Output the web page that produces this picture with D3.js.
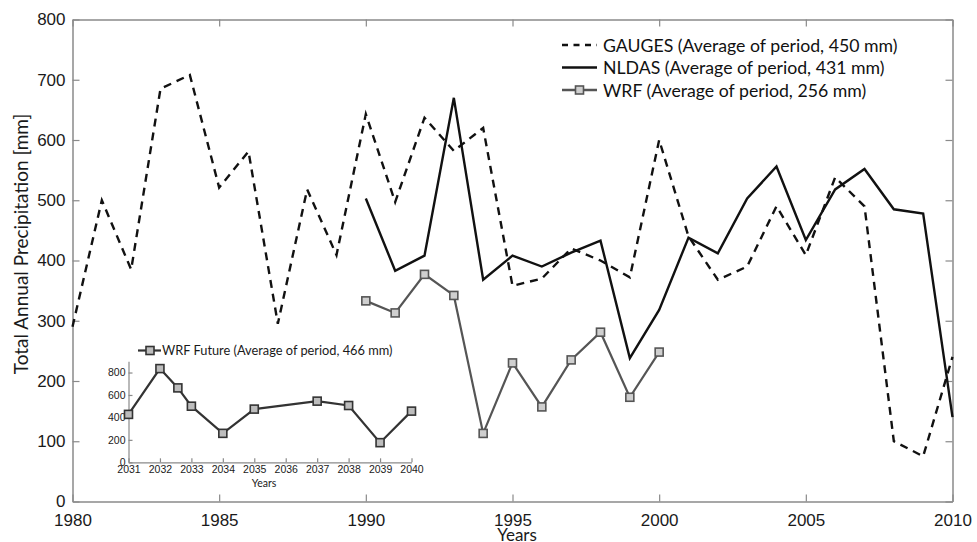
<!DOCTYPE html>
<html>
<head>
<meta charset="utf-8">
<script src="https://cdn.jsdelivr.net/npm/d3@7"></script>
<style>
  body { margin: 0; background: #fff; }
  svg { font-family: Lato, "Open Sans", sans-serif; }
  .frame path.domain { stroke: #8a8a8a; stroke-width: 1.5; }
  .frame line { stroke: #8a8a8a; stroke-width: 1.2; }
  .frame text { fill: #1a1a1a; }
</style>
</head>
<body>
<script>
// values (mm per year)
const gaugeYears = d3.range(1980, 2011);
const gaugeValues = [290, 500, 385, 685, 708, 521, 581, 295, 518, 409,
  643, 497, 637, 582, 620, 358, 370, 420, 400, 372,
  600, 440, 368, 390, 490, 409, 538, 490, 100, 75, 240];

const nldasYears = d3.range(1990, 2011);
const nldasValues = [503, 383, 408, 670, 368, 408, 390, 413, 433, 238,
  318, 438, 412, 503, 556, 434, 518, 552, 485, 478, 140];

const wrfYears = d3.range(1990, 2001);
const wrfValues = [333, 313, 377, 342, 113, 230, 157, 235, 281, 173, 248];

// inset: future run
const futureYears = [2031, 2032, 2032.57, 2033, 2034, 2035, 2037, 2038, 2039, 2040];
const futureValues = [427, 835, 663, 500, 258, 474, 545, 506, 175, 456];

const mainXTicks = [1980, 1985, 1990, 1995, 2000, 2005, 2010];
const mainYTicks = [0, 100, 200, 300, 400, 500, 600, 700, 800];
const insetXTicks = d3.range(2031, 2041);
const insetYTicks = [0, 200, 400, 600, 800];

const legendLabels = [
  "GAUGES (Average of period, 450 mm)",
  "NLDAS (Average of period, 431 mm)",
  "WRF (Average of period, 256 mm)"
];
const insetLegend = "WRF Future (Average of period, 466 mm)";

var width = 977, height = 542;
var margin = {top: 19.5, right: 24.5, bottom: 40.5, left: 72.5};

var svg = d3.select("body").append("svg")
    .attr("width", width)
    .attr("height", height);

var x = d3.scaleLinear().domain([1980, 2010]).range([margin.left, width - margin.right]);
var y = d3.scaleLinear().domain([0, 800]).range([height - margin.bottom, margin.top]);

// frame + ticks (all pointing inwards like matlab)
svg.append("g").attr("class", "frame")
    .attr("transform", "translate(0," + (height - margin.bottom) + ")")
    .call(d3.axisBottom(x).tickValues(mainXTicks).tickFormat(d3.format("d"))
        .tickSizeInner(-7).tickSizeOuter(0).tickPadding(12))
    .selectAll("text").style("font-size", "17px");

svg.append("g").attr("class", "frame")
    .attr("transform", "translate(0," + margin.top + ")")
    .call(d3.axisTop(x).tickValues(mainXTicks).tickFormat("").tickSizeInner(-7).tickSizeOuter(0));

svg.append("g").attr("class", "frame")
    .attr("transform", "translate(" + margin.left + ",0)")
    .call(d3.axisLeft(y).tickValues(mainYTicks).tickSizeInner(-7).tickSizeOuter(0).tickPadding(7))
    .selectAll("text").style("font-size", "17px");

svg.append("g").attr("class", "frame")
    .attr("transform", "translate(" + (width - margin.right) + ",0)")
    .call(d3.axisRight(y).tickValues(mainYTicks).tickFormat("").tickSizeInner(-7).tickSizeOuter(0));

// axis titles
svg.append("text")
    .attr("x", 517).attr("y", 541)
    .attr("text-anchor", "middle")
    .style("font-size", "17px").style("fill", "#1a1a1a")
    .text("Years");

svg.append("text")
    .attr("transform", "translate(28,244) rotate(-90)")
    .attr("text-anchor", "middle")
    .style("font-size", "19px").style("fill", "#1a1a1a")
    .text("Total Annual Precipitation [mm]");

var line = d3.line()
    .x(d => x(d[0]))
    .y(d => y(d[1]));

svg.append("path")
    .datum(d3.zip(gaugeYears, gaugeValues))
    .attr("d", line)
    .attr("fill", "none")
    .attr("stroke", "#111")
    .attr("stroke-width", 2.4)
    .attr("stroke-dasharray", "8,6");

svg.append("path")
    .datum(d3.zip(nldasYears, nldasValues))
    .attr("d", line)
    .attr("fill", "none")
    .attr("stroke", "#111")
    .attr("stroke-width", 2.4);

svg.append("path")
    .datum(d3.zip(wrfYears, wrfValues))
    .attr("d", line)
    .attr("fill", "none")
    .attr("stroke", "#555")
    .attr("stroke-width", 2.2);

svg.selectAll(".wrfpt")
    .data(d3.zip(wrfYears, wrfValues))
    .enter().append("rect")
    .attr("class", "wrfpt")
    .attr("x", d => x(d[0]) - 4)
    .attr("y", d => y(d[1]) - 4)
    .attr("width", 8).attr("height", 8)
    .attr("fill", "#cfcfcf")
    .attr("stroke", "#555")
    .attr("stroke-width", 1.6);

// legend
var leg = svg.append("g");
legendLabels.forEach(function (lab, i) {
    var ly = 45 + i * 22.5;
    var ln = leg.append("line")
        .attr("x1", 562).attr("x2", 597)
        .attr("y1", ly).attr("y2", ly)
        .attr("stroke-width", 2.4)
        .attr("stroke", i == 2 ? "#555" : "#111");
    if (i == 0) ln.attr("stroke-dasharray", "6,5.5");
    if (i == 2) {
        leg.append("rect")
            .attr("x", 575.5).attr("y", ly - 4).attr("width", 8).attr("height", 8)
            .attr("fill", "#cfcfcf").attr("stroke", "#555").attr("stroke-width", 1.6);
    }
    leg.append("text")
        .attr("x", 603).attr("y", ly + 6.5)
        .style("font-size", "17.7px").style("fill", "#111")
        .text(lab);
});

// inset chart
var ix = d3.scaleLinear().domain([2031, 2040]).range([128.5, 411.5]);
var iy = d3.scaleLinear().domain([0, 900]).range([462.3, 361.3]);

var inset = svg.append("g");
inset.append("rect")
    .attr("x", 100).attr("y", 338).attr("width", 325).attr("height", 156)
    .attr("fill", "#fff");

inset.append("g").attr("class", "frame")
    .attr("transform", "translate(0,462.3)")
    .call(d3.axisBottom(ix).tickValues(insetXTicks).tickFormat(d3.format("d"))
        .tickSizeInner(-4).tickSizeOuter(0).tickPadding(3))
    .selectAll("text").style("font-size", "10.5px");

inset.append("g").attr("class", "frame")
    .attr("transform", "translate(128.5,0)")
    .call(d3.axisLeft(iy).tickValues(insetYTicks).tickSizeInner(-4).tickSizeOuter(0).tickPadding(3))
    .selectAll("text").style("font-size", "10.5px");

inset.selectAll(".frame path.domain").style("stroke-width", 1.2);

inset.append("text")
    .attr("x", 264).attr("y", 487)
    .attr("text-anchor", "middle")
    .style("font-size", "10.5px").style("fill", "#1a1a1a")
    .text("Years");

var iline = d3.line()
    .x(d => ix(d[0]))
    .y(d => iy(d[1]));

inset.append("path")
    .datum(d3.zip(futureYears, futureValues))
    .attr("d", iline)
    .attr("fill", "none")
    .attr("stroke", "#333")
    .attr("stroke-width", 2.2);

inset.selectAll(".futpt")
    .data(d3.zip(futureYears, futureValues))
    .enter().append("rect")
    .attr("x", d => ix(d[0]) - 4)
    .attr("y", d => iy(d[1]) - 4)
    .attr("width", 8).attr("height", 8)
    .attr("fill", "#bdbdbd")
    .attr("stroke", "#333")
    .attr("stroke-width", 1.6);

inset.append("line")
    .attr("x1", 138).attr("x2", 161)
    .attr("y1", 350.5).attr("y2", 350.5)
    .attr("stroke", "#333").attr("stroke-width", 2.2);
inset.append("rect")
    .attr("x", 146).attr("y", 346.5).attr("width", 8).attr("height", 8)
    .attr("fill", "#bdbdbd").attr("stroke", "#333").attr("stroke-width", 1.6);
inset.append("text")
    .attr("x", 162).attr("y", 355)
    .style("font-size", "12.8px").style("fill", "#1a1a1a")
    .text(insetLegend);
</script>
</body>
</html>
